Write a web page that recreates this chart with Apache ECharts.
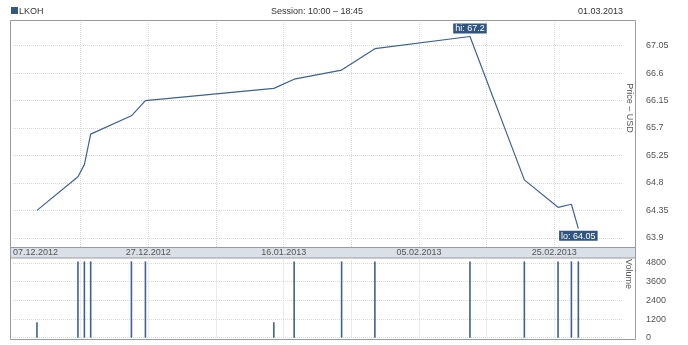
<!DOCTYPE html>
<html><head><meta charset="utf-8">
<script src="https://cdn.jsdelivr.net/npm/echarts@6/dist/echarts.min.js"></script>
<style>html,body{margin:0;padding:0;background:#fff}#c{width:688px;height:345px}</style>
</head><body><div id="c"></div>
<script>
// ---- data ----
const tradeTimes = ['2012-12-10 13:00','2012-12-16 14:20','2012-12-17 13:10','2012-12-18 11:30','2012-12-24 12:00',
  '2012-12-26 13:40','2013-01-14 13:10','2013-01-17 13:10','2013-01-24 13:30','2013-01-29 11:30',
  '2013-02-12 12:45','2013-02-20 13:40','2013-02-25 13:10','2013-02-27 12:30','2013-02-28 13:10'];
const prices = [64.35, 64.9, 65.1, 65.6, 65.9, 66.15, 66.35, 66.5, 66.65, 67.0, 67.2, 64.85, 64.4, 64.45, 64.05];
const volumes = [1000, 4900, 4900, 4900, 4900, 4900, 1000, 4900, 4900, 4900, 4900, 4900, 4900, 4900, 4900];
const priceTickLabels = ['63.9','64.35','64.8','65.25','65.7','66.15','66.6','67.05'];
const volumeTickLabels = ['0','1200','2400','3600','4800'];
const dateTickLabels = ['07.12.2012','27.12.2012','16.01.2013','05.02.2013','25.02.2013'];
const axisStart = '2012-12-07';

// ---- helpers ----
function toUTC(s){ const [d,t] = s.split(' '); const [y,m,dd] = d.split('-').map(Number);
  const [h,mi] = (t||'00:00').split(':').map(Number); return Date.UTC(y,m-1,dd,h,mi); }
const base = toUTC(axisStart);
const dayOf = s => (toUTC(s) - base) / 86400000;
function fmtDate(days){ const dt = new Date(base + days*86400000);
  const p = n => String(n).padStart(2,'0');
  return p(dt.getUTCDate())+'.'+p(dt.getUTCMonth()+1)+'.'+dt.getUTCFullYear(); }

const xs = tradeTimes.map(dayOf);
const priceData = xs.map((x,i)=>[x, prices[i]]);
const volData = xs.map((x,i)=>[x, volumes[i]]);
let hi = 0, lo = 0;
prices.forEach((p,i)=>{ if(p>prices[hi]) hi=i; if(p<prices[lo]) lo=i; });

const FONT = 'Liberation Sans, Arial, sans-serif';
const GRID = '#dadada';
const labBox = {show:true, fontSize:9, fontFamily:FONT, color:'#ffffff', backgroundColor:'#2f5580',
  padding:[1,2,0,2], lineHeight:9, opacity:1};
const vColors = ['transparent',GRID,GRID,GRID,GRID,GRID,GRID,GRID,GRID,'transparent'];

const chart = echarts.init(document.getElementById('c'), null, {renderer:'canvas'});
chart.setOption({
  animation:false,
  textStyle:{fontFamily:FONT},
  grid:[{left:13, right:66, top:20, height:227},{left:13, right:66, top:258.3, height:79.4}],
  xAxis:[
    {type:'value', gridIndex:0, min:0, max:90, interval:10,
     axisLine:{show:false}, axisTick:{show:false},
     axisLabel:{show:true, fontSize:9, color:'#555', margin:1, lineHeight:10, alignMinLabel:'left', showMaxLabel:false,
       formatter:v=>{ const s = fmtDate(v); return dateTickLabels.includes(s) ? s : ''; }},
     splitLine:{show:true, lineStyle:{type:'dotted', color:vColors}}},
    {type:'value', gridIndex:1, min:0, max:90, interval:10,
     axisLine:{show:false}, axisTick:{show:false}, axisLabel:{show:false},
     splitLine:{show:true, lineStyle:{type:'dotted', color:vColors}}}
  ],
  yAxis:[
    {type:'value', gridIndex:0, position:'right', min:63.75, max:67.47, interval:0.15,
     axisLine:{show:false}, axisTick:{show:false},
     axisLabel:{fontSize:9, color:'#555', margin:24, showMaxLabel:false,
       formatter:v=>{ const f = priceTickLabels.find(t=>Math.abs(Number(t)-v)<1e-6); return f||''; }},
     splitLine:{show:true, lineStyle:{type:'dotted', color:['transparent',GRID,'transparent']}}},
    {type:'value', gridIndex:1, position:'right', min:0, max:5100, interval:1200,
     axisLine:{show:false}, axisTick:{show:false},
     axisLabel:{fontSize:9, color:'#555', margin:24, showMaxLabel:false,
       formatter:v=>{ const f = volumeTickLabels.find(t=>Math.abs(Number(t)-v)<1e-6); return f||''; }},
     splitLine:{show:true, lineStyle:{type:'dotted', color:[GRID,GRID,GRID,GRID,GRID,'transparent']}}}
  ],
  series:[
    {type:'line', xAxisIndex:0, yAxisIndex:0, data:priceData, symbol:'none', showSymbol:false,
     lineStyle:{color:'#3e6290', width:1.2}, z:3},
    {type:'scatter', xAxisIndex:0, yAxisIndex:0, symbolSize:0, itemStyle:{color:'#2f5580', opacity:1}, z:5,
     emphasis:{disabled:true},
     data:[
       {value:priceData[hi], label:Object.assign({}, labBox, {position:'top', distance:3, formatter:'hi: '+prices[hi]})},
       {value:priceData[lo], label:Object.assign({}, labBox, {position:'bottom', distance:2, formatter:'lo: '+prices[lo].toFixed(2)})}
     ]},
    {type:'bar', xAxisIndex:1, yAxisIndex:1, data:volData, barWidth:1.6, itemStyle:{color:'#3e6290'}}
  ],
  graphic:[
    {type:'rect', z:-1, silent:true, shape:{x:10.5,y:247.5,width:625,height:10.5}, style:{fill:'#d9e0e7', stroke:'#9a9a9a', lineWidth:1}},
    {type:'rect', z:100, silent:true, shape:{x:10.5,y:20.5,width:625,height:319}, style:{fill:'none', stroke:'#9a9a9a', lineWidth:1}},
    {type:'rect', silent:true, shape:{x:11,y:7,width:7,height:7}, style:{fill:'#34597f'}},
    {type:'text', silent:true, x:19, y:11.5, style:{text:'LKOH', font:'9px '+FONT, fill:'#333', verticalAlign:'middle'}},
    {type:'text', silent:true, x:271, y:11.5, style:{text:'Session: 10:00 – 18:45', font:'9px '+FONT, fill:'#333', verticalAlign:'middle'}},
    {type:'text', silent:true, x:623, y:11.5, style:{text:'01.03.2013', font:'9px '+FONT, fill:'#333', align:'right', verticalAlign:'middle'}},
    {type:'text', silent:true, x:629, y:108, rotation:-Math.PI/2, style:{text:'Price – USD', font:'9px '+FONT, fill:'#555', align:'center', verticalAlign:'middle'}},
    {type:'text', silent:true, x:628, y:274, rotation:-Math.PI/2, style:{text:'Volume', font:'9px '+FONT, fill:'#555', align:'center', verticalAlign:'middle'}}
  ]
});
</script></body></html>
